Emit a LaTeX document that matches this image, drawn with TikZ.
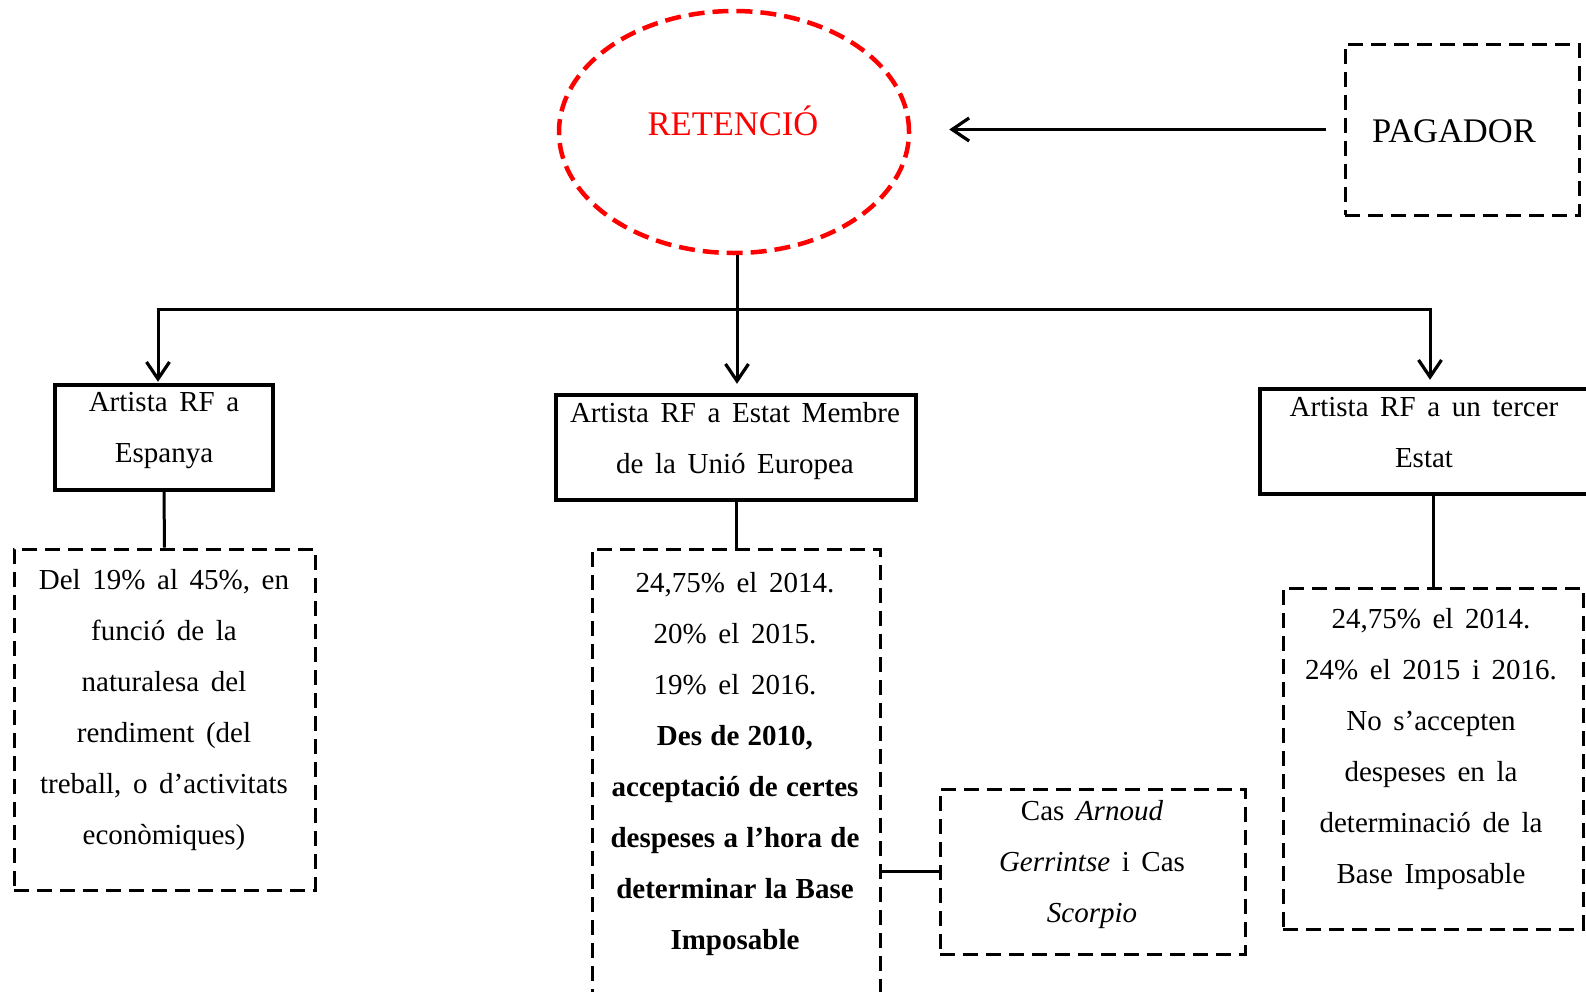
\documentclass[tikz,border=0pt]{standalone}
\usepackage{fontspec}
\setmainfont{Liberation Serif}[WordSpace=1.6]
\newfontfamily\bodybold{Liberation Serif}[WordSpace=1.15]
\usetikzlibrary{arrows.meta,shapes.geometric}
\begin{document}
\begin{tikzpicture}[x=1pt,y=-1pt,
  solidbox/.style={draw,line width=3.4pt,inner sep=0pt},
  dashbox/.style={draw,line width=3pt,dash pattern=on 15pt off 8pt,inner sep=0pt},
  body/.style={align=center,inner sep=0pt,font=\fontsize{29}{51}\selectfont},
  title/.style={inner sep=0pt,font=\fontsize{34.5}{40}\selectfont},
  conn/.style={line width=3pt},
  arr/.style={line width=3pt,-{Straight Barb[length=17pt,width=23pt,line width=3.2pt]}}]
\useasboundingbox (0,0) rectangle (1586,991);
% ellipse and payer
\node[ellipse,draw=red,line width=4.5pt,dash pattern=on 16pt off 8pt,minimum width=350pt,minimum height=242pt,inner sep=0pt] (ret) at (734,132) {};
\node[title,text=red] (rett) at (733,121) {RETENCIÓ};
\node[dashbox,minimum width=234pt,minimum height=171pt] (pag) at (1462,129.5) {};
\node[title] (pagt) at (1454,131) {PAGADOR};
% level boxes
\node[solidbox,minimum width=218pt,minimum height=105pt] (b1) at (164,437.5) {};
\node[body] (b1t) at (164,431) {Artista RF a\\Espanya};
\node[solidbox,minimum width=360pt,minimum height=105pt] (b2) at (736,447.5) {};
\node[body] (b2t) at (735,441) {Artista RF a Estat Membre\\de la Unió Europea};
\node[solidbox,minimum width=334pt,minimum height=105pt] (b3) at (1427,441.5) {};
\node[body] (b3t) at (1424,433) {Artista RF a un tercer\\Estat};
% detail boxes
\node[dashbox,minimum width=301pt,minimum height=341pt] (d1) at (164.5,719.5) {};
\node[body] (d1t) at (164,710) {Del 19\% al 45\%, en\\funció de la\\naturalesa del\\rendiment (del\\treball, o d’activitats\\econòmiques)};
\node[dashbox,minimum width=288pt,minimum height=456pt] (d2) at (736,777) {};
\node[body] (d2t) at (735,764) {24,75\% el 2014.\\20\% el 2015.\\19\% el 2016.\\{\bodybold\bfseries Des de 2010,}\\{\bodybold\bfseries acceptació de certes}\\{\bodybold\bfseries despeses a l’hora de}\\{\bodybold\bfseries determinar la Base}\\{\bodybold\bfseries Imposable}};
\node[dashbox,minimum width=305pt,minimum height=165pt] (cas) at (1092.5,871.5) {};
\node[body] (cast) at (1092,865) {Cas \textit{Arnoud}\\\textit{Gerrintse} i Cas\\\textit{Scorpio}};
\node[dashbox,minimum width=300pt,minimum height=341pt] (d3) at (1433,758.5) {};
\node[body] (d3t) at (1431,749) {24,75\% el 2014.\\24\% el 2015 i 2016.\\No s’accepten\\despeses en la\\determinació de la\\Base Imposable};
% connectors
\coordinate (L) at (158,309);
\coordinate (M) at (737,309);
\coordinate (R) at (1430,309);
\draw[arr,shorten <=18pt,shorten >=38pt] (pag.west) -- (pag.west -| ret.east);
\draw[conn] (ret.south -| M) -- (M);
\draw[conn] ([xshift=-1.5pt]L) -- ([xshift=1.5pt]R);
\draw[arr] (L) -- ([yshift=1.5pt]L |- b1.north);
\draw[arr] (M) -- ([yshift=9.5pt]M |- b2.north);
\draw[arr] (R) -- ([yshift=7.5pt]R |- b3.north);
\draw[conn] (b1.south) -- (d1.north);
\draw[conn] (b2.south) -- (d2.north);
\draw[conn] (d3.north |- b3.south) -- (d3.north);
\draw[conn] (d2.east |- cas.west) -- (cas.west);
\end{tikzpicture}
\end{document}
